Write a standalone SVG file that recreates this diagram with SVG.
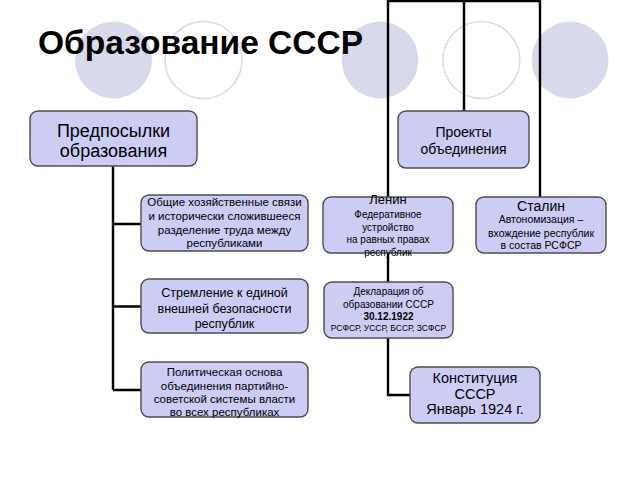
<svg xmlns="http://www.w3.org/2000/svg" width="640" height="480" viewBox="0 0 640 480">
<style>
.bg{fill:#ffffff}
.dec-f{fill:#d9d9ec}
.dec-o{fill:none;stroke:#dcdce6;stroke-width:1.6}
.box{fill:#ccccf4;stroke:#4d4d4d;stroke-width:1.4}
.ln{fill:none;stroke:#000;stroke-width:2.4}
.t{font-family:"Liberation Sans",Arial,sans-serif;fill:#000;text-anchor:middle}
.title{font-family:"Liberation Sans",Arial,sans-serif;font-weight:bold;font-size:33.5px;fill:#000}
</style>
<rect class="bg" x="0" y="0" width="640" height="480"/>
<g id="decor">
<circle class="dec-f" cx="113.5" cy="60" r="38.5"/>
<circle class="dec-o" cx="203.5" cy="60" r="38.5"/>
<circle class="dec-f" cx="380" cy="60" r="38.5"/>
<circle class="dec-o" cx="481.3" cy="60" r="38.5"/>
<circle class="dec-f" cx="570" cy="60" r="38.5"/>
</g>
<text class="title" x="38" y="54">Образование СССР</text>
<g id="connectors">
<path class="ln" d="M388,1 H540 M388,0 V197 M464,0 V111 M540,0 V197"/>
<path class="ln" d="M388,253 V282 M388,338 V395 H410"/>
<path class="ln" d="M113,166 V390 M113,224 H141 M113,306.5 H141 M113,390 H141"/>
</g>
<g id="n-predposylki">
<rect class="box" x="30" y="111" width="167" height="55" rx="8"/>
<text class="t" x="113.5" y="136.5" font-size="18">Предпосылки</text>
<text class="t" x="113.5" y="156.5" font-size="18">образования</text>
</g>
<g id="n-svyazi">
<rect class="box" x="141" y="195" width="167" height="56" rx="8"/>
<text class="t" x="224.5" y="205.5" font-size="11.5">Общие хозяйственные связи</text>
<text class="t" x="224.5" y="219.5" font-size="11.5">и исторически сложившееся</text>
<text class="t" x="224.5" y="233.5" font-size="11.5">разделение труда между</text>
<text class="t" x="224.5" y="247" font-size="11.5">республиками</text>
</g>
<g id="n-bezopasnost">
<rect class="box" x="141" y="279" width="167" height="54" rx="8"/>
<text class="t" x="224.5" y="297" font-size="12.5">Стремление к единой</text>
<text class="t" x="224.5" y="312.5" font-size="12.5">внешней безопасности</text>
<text class="t" x="224.5" y="328" font-size="12.5">республик</text>
</g>
<g id="n-politika">
<rect class="box" x="141" y="362" width="167" height="55" rx="8"/>
<text class="t" x="224.5" y="375.5" font-size="11.5">Политическая основа</text>
<text class="t" x="224.5" y="389.5" font-size="11.5">объединения партийно-</text>
<text class="t" x="224.5" y="403" font-size="11.5">советской системы власти</text>
<text class="t" x="224.5" y="416" font-size="11.5">во всех республиках</text>
</g>
<g id="n-proekty">
<rect class="box" x="398" y="111" width="131" height="57" rx="8"/>
<text class="t" x="463.5" y="137" font-size="14">Проекты</text>
<text class="t" x="463.5" y="154" font-size="14">объединения</text>
</g>
<g id="n-lenin">
<rect class="box" x="323" y="197" width="130" height="56" rx="8"/>
<text class="t" x="388" y="204" font-size="13">Ленин</text>
<text class="t" x="388" y="218" font-size="10">Федеративное</text>
<text class="t" x="388" y="230.5" font-size="10">устройство</text>
<text class="t" x="388" y="243" font-size="10">на равных правах</text>
<text class="t" x="388" y="255.5" font-size="10">республик</text>
</g>
<g id="n-stalin">
<rect class="box" x="476" y="197" width="130" height="56" rx="8"/>
<text class="t" x="541" y="211" font-size="14">Сталин</text>
<text class="t" x="541" y="223" font-size="10.5">Автономизация –</text>
<text class="t" x="541" y="236.5" font-size="10.5">вхождение республик</text>
<text class="t" x="541" y="249" font-size="10.5">в состав РСФСР</text>
</g>
<g id="n-deklaraciya">
<rect class="box" x="324" y="282" width="129" height="56" rx="8"/>
<text class="t" x="388.5" y="295" font-size="10">Декларация об</text>
<text class="t" x="388.5" y="307.5" font-size="10">образовании СССР</text>
<text class="t" x="388.5" y="319.5" font-size="10" font-weight="bold">30.12.1922</text>
<text class="t" x="388.5" y="331" font-size="8.5">РСФСР, УССР, БССР, ЗСФСР</text>
</g>
<g id="n-konstituciya">
<rect class="box" x="410" y="367" width="130" height="56" rx="8"/>
<text class="t" x="475" y="383" font-size="14.5">Конституция</text>
<text class="t" x="475" y="398.5" font-size="14.5">СССР</text>
<text class="t" x="475" y="414" font-size="14.5">Январь 1924 г.</text>
</g>
</svg>
